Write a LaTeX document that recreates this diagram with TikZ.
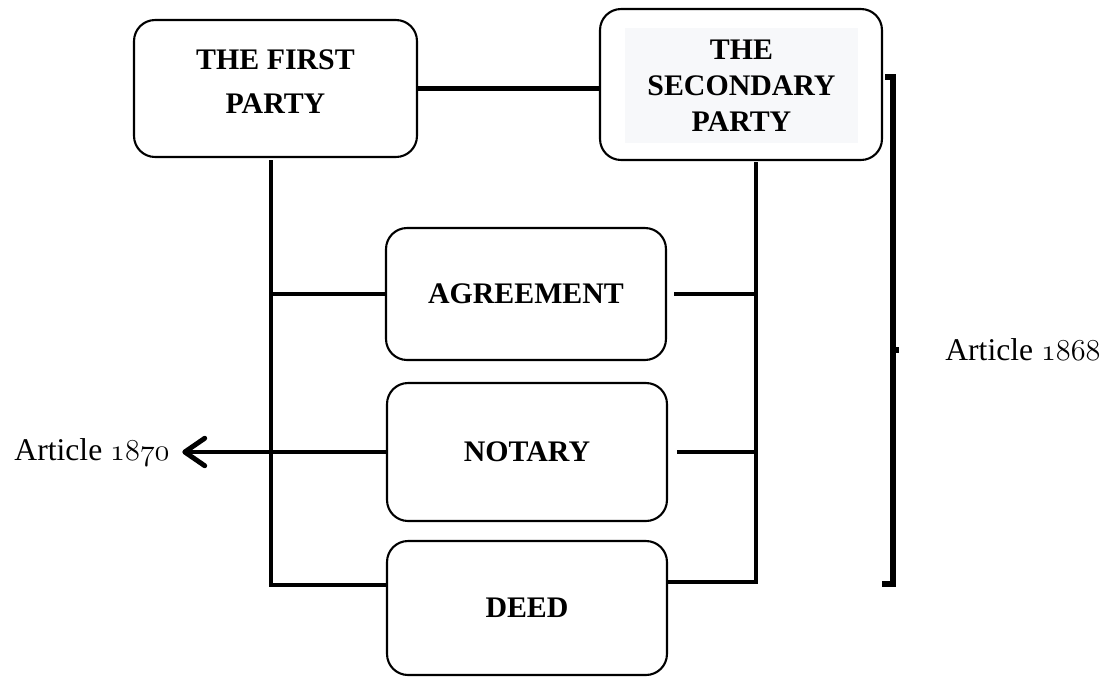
\documentclass[tikz,border=0pt]{standalone}
\usepackage{fontspec}
\setmainfont{Liberation Serif}
\usepackage{tikz}
\usetikzlibrary{positioning, arrows.meta}
\tikzstyle{party} = [rectangle, draw, rounded corners=0.42cm, line width=1.2pt, text centered, align=center, font=\fontsize{17}{24}\selectfont\bfseries]
\tikzstyle{deal} = [rectangle, draw, rounded corners=0.42cm, line width=1.2pt, minimum width=5.6cm, text centered, font=\fontsize{17}{20}\selectfont\bfseries]
\tikzstyle{link} = [draw, line width=2.8pt]
\tikzstyle{article} = [font=\fontsize{18}{21}\selectfont]
\definecolor{panelgray}{HTML}{F7F8FA}
\newcommand{\oldnum}[1]{{\usefont{OML}{cmm}{m}{it}#1}}

\begin{document}
\begin{tikzpicture}[x=0.02cm, y=-0.02cm]
    \useasboundingbox (0,0) rectangle (1110,677);

    \node (first) [party, minimum width=5.66cm, minimum height=2.74cm] at (275.5,88.5) {};
    \node (firsttext) [align=center, font=\fontsize{17}{25}\selectfont\bfseries] at (275.5,82) {THE FIRST\\PARTY};
    \node (second) [party, minimum width=5.64cm, minimum height=3.02cm] at (741,84.5) {};
    \node (secondtext) [fill=panelgray, minimum width=4.66cm, minimum height=2.3cm, align=center, font=\fontsize{17}{20.5}\selectfont\bfseries] at (741.5,85.5) {THE\\SECONDARY\\PARTY};

    \node (agree) [deal, minimum height=2.64cm] at (526,294) {AGREEMENT};
    \node (notary) [deal, minimum height=2.76cm] at (527,452) {NOTARY};
    \node (deed) [deal, minimum height=2.68cm] at (527,608) {DEED};

    \coordinate (lefttop) at (271,160);
    \coordinate (leftbot) at (271,585);
    \coordinate (righttop) at (756,162);
    \coordinate (rightbot) at (756,582);

    \node (art70) [article, anchor=east, inner sep=0pt] at (170,452) {Article \oldnum{1870}};
    \node (art68) [article, anchor=west, inner sep=0pt] at (945,350) {Article \oldnum{1868}};

    \path [link] (first.east) -- (first.east -| second.west);
    \path [link] (lefttop) -- (leftbot) -- (deed.west |- leftbot);
    \path [link] (righttop) -- (rightbot) -- (deed.east |- rightbot);
    \path [link] (agree.west) -- (lefttop |- agree.west);
    \path [link] (notary.west) -- (lefttop |- notary.west);
    \path [link] ([xshift=4]agree.east) -- (righttop |- agree.east);
    \path [link] ([xshift=5]notary.east) -- (righttop |- notary.east);
    \draw [line width=2.8pt, -{Straight Barb[length=4mm, width=5.5mm, round]}] (lefttop |- notary.west) -- ([xshift=7]art70.east);

    \draw [line width=3.2pt] (885,77) -- (893,77) -- (893,584) -- (882,584);
    \draw [line width=3.2pt] (893,350) -- (899,350);
\end{tikzpicture}
\end{document}
